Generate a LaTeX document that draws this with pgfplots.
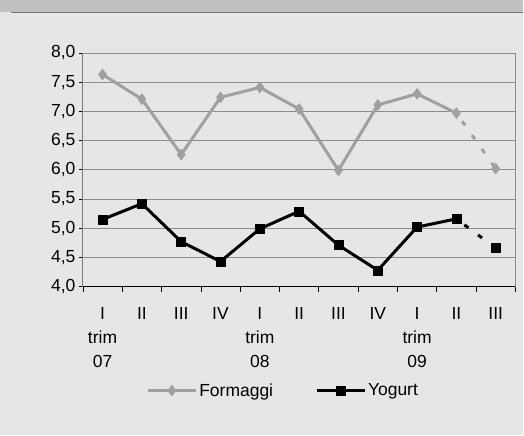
\documentclass[border=0pt]{standalone}
\usepackage{fontspec}
\setmainfont{Liberation Sans}
\usepackage{pgfplots}
\pgfplotsset{compat=1.18}
\definecolor{bgc}{HTML}{E6E6E6}
\definecolor{bandc}{HTML}{C0C0C0}
\definecolor{formc}{HTML}{A0A0A0}
\definecolor{gridc}{HTML}{8C8C8C}

\begin{document}
\begin{tikzpicture}
\fill[bgc] (0,0) rectangle (524pt,436pt);
\fill[bandc] (0,424pt) rectangle (524pt,436pt);
\draw[gray!90!black, line width=1.3pt] (11pt,423.3pt) -- (524pt,423.3pt);
\begin{axis}[
  at={(83pt,149pt)}, anchor=south west,
  scale only axis, width=433pt, height=234pt,
  font=\fontsize{17.5}{24}\selectfont,
  xmin=-0.5, xmax=10.5, ymin=4, ymax=8,
  ytick={4,4.5,...,8},
  xtick={0,...,10},
  xticklabels={{I\\trim\\07},II,III,IV,{I\\trim\\08},II,III,IV,{I\\trim\\09},II,III},
  xticklabel style={align=center, anchor=north, yshift=-13pt},
  minor xtick={-0.5,0.5,...,10.5},
  major x tick style={draw=none},
  xtick pos=bottom, ytick pos=left,
  tick align=outside,
  minor tick length=5pt, major tick length=4pt,
  tick style={black, line width=0.6pt},
  ymajorgrids, grid style={gridc, line width=0.7pt},
  axis line style={gridc, line width=0.8pt},
  yticklabel style={/pgf/number format/.cd, fixed, fixed zerofill, precision=1, use comma, assume math mode=true},
  legend columns=2,
  legend style={at={(0.463,-0.445)}, anchor=center, draw=none, fill=none,
    /tikz/every even column/.append style={column sep=40pt}},
  legend image code/.code={\draw[#1] (0pt,0pt) -- (48pt,0pt); \draw[#1, mark repeat=2, mark phase=2] plot coordinates {(0pt,0pt) (24pt,0pt) (48pt,0pt)};},
]
\draw[black, line width=0.8pt] (rel axis cs:0,1) -- (rel axis cs:0,0) -- (rel axis cs:1,0);
\addplot[formc, line width=3pt, mark=diamond*, mark size=5.5pt, mark options={fill=formc, draw=formc, line width=0.5pt}]
coordinates {(0,7.63) (1,7.21) (2,6.26) (3,7.24) (4,7.41) (5,7.04) (6,5.99) (7,7.11) (8,7.30) (9,6.97)};
\addlegendentry{Formaggi}
\addplot[black, line width=3pt, mark=square*, mark size=4.5pt, mark options={solid, line width=0.5pt}]
coordinates {(0,5.15) (1,5.42) (2,4.77) (3,4.43) (4,4.99) (5,5.29) (6,4.71) (7,4.28) (8,5.02) (9,5.16)};
\addlegendentry{Yogurt}
\addplot[formc, line width=3pt, dash pattern=on 5pt off 12pt, dash phase=-10pt, mark=diamond*, mark size=5.5pt, mark options={solid, fill=formc, draw=formc, line width=0.5pt}, mark indices={2}, forget plot]
coordinates {(9,6.97) (10,6.02)};
\addplot[black, line width=3pt, dash pattern=on 5pt off 12pt, dash phase=-10pt, mark=square*, mark size=4.5pt, mark options={solid, line width=0.5pt}, mark indices={2}, forget plot]
coordinates {(9,5.16) (10,4.66)};
\end{axis}
\end{tikzpicture}
\end{document}
